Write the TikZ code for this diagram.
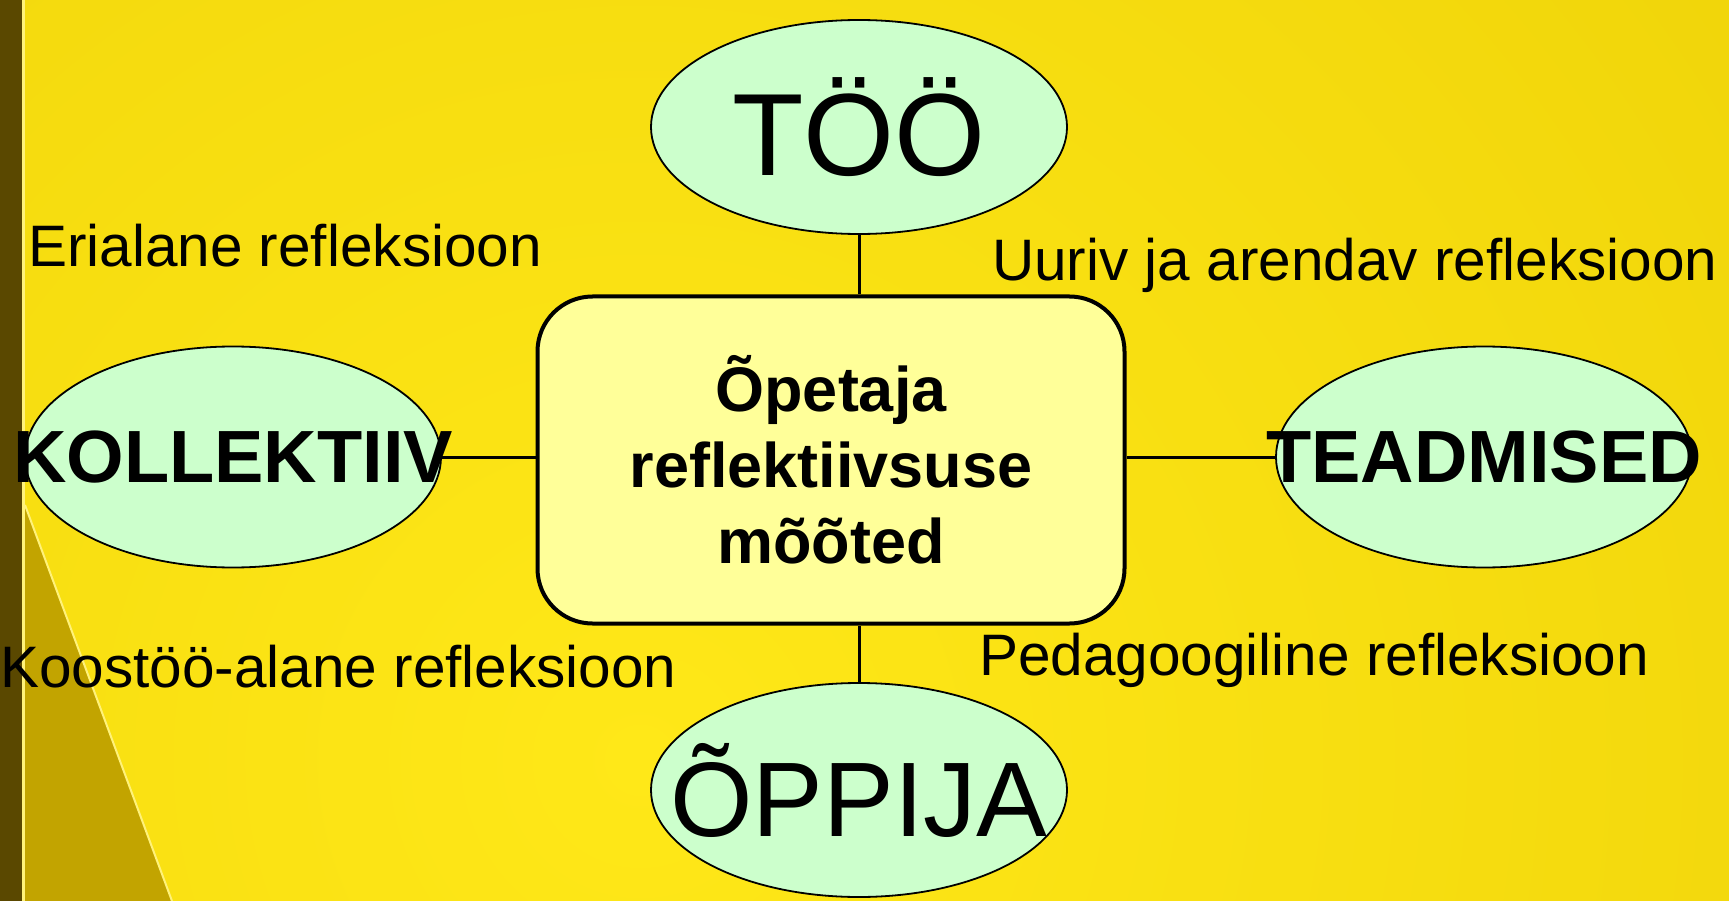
\documentclass[tikz,border=0pt]{standalone}
\usepackage{fontspec}
\setmainfont{Liberation Sans}
\usepackage{xcolor}
\usepackage{tikz}
\usetikzlibrary{shapes.geometric, positioning}
\definecolor{bgbright}{HTML}{FFE818}
\definecolor{bgdark}{HTML}{E6C800}
\definecolor{stripe}{HTML}{5A4800}
\definecolor{shadow}{HTML}{C2A400}
\definecolor{glint}{HTML}{FFF27A}
\definecolor{polefill}{HTML}{CCFFCC}
\definecolor{corefill}{HTML}{FFFF99}
\newcommand{\overhang}[1]{\makebox[0pt]{#1}}
\tikzset{
  pole/.style={ellipse, draw=black, line width=1.8pt, fill=polefill,
    minimum width=416pt, minimum height=214pt, inner sep=0pt, align=center},
  bigword/.style={font=\fontsize{#1}{130}\selectfont},
  boldword/.style={minimum height=221pt, font=\fontsize{74}{88}\bfseries\selectfont},
  core/.style={rectangle, rounded corners=55pt, draw=black, line width=4pt,
    fill=corefill, minimum width=587pt, minimum height=327pt, align=center,
    font=\fontsize{63}{76}\bfseries\selectfont},
  tag/.style={anchor=base west, inner sep=0pt, font=\fontsize{58.5}{68}\selectfont},
  link/.style={line width=3pt}
}

\begin{document}
\begin{tikzpicture}[x=1pt, y=-1pt]
  % background
  \useasboundingbox (0,0) rectangle (1729,901);
  \begin{scope}
    \clip (0,0) rectangle (1729,901);
    \fill[bgdark] (0,0) rectangle (1729,901);
    \shade[inner color=bgbright, outer color=bgdark] (640,760) circle (2300);
    \fill[shadow] (25,505) -- (172,901) -- (25,901) -- cycle;
    \draw[glint, line width=2pt] (25,505) -- (172,901);
    \fill[stripe] (0,0) rectangle (22,901);
    \fill[glint] (22,0) rectangle (24.5,901);
  \end{scope}

  \node[core] (core) at (831,460) {Õpetaja\\reflektiivsuse\\mõõted};
  \node[pole, bigword=117] (too) at (859,127) {\overhang{TÖÖ}};
  \node[pole, bigword=106] (oppija) at (859,790) {\overhang{ÕPPIJA}};
  \node[pole, boldword] (koll) at (233,457) {\overhang{KOLLEKTIIV}};
  \node[pole, boldword] (teadm) at (1484,457) {\overhang{TEADMISED}};

  \node[tag] (eri) at (28,267) {Erialane refleksioon};
  \node[tag] (uuriv) at (992,280) {Uuriv ja arendav refleksioon};
  \node[tag] (koos) at (0,687) {Koostöö-alane refleksioon};
  \node[tag] (ped) at (979,675) {Pedagoogiline refleksioon};

  \draw[link] (too) -- (too |- core.north);
  \draw[link] (oppija) -- (oppija |- core.south);
  \draw[link] (koll) -- (koll -| core.west);
  \draw[link] (teadm) -- (teadm -| core.east);
\end{tikzpicture}
\end{document}
